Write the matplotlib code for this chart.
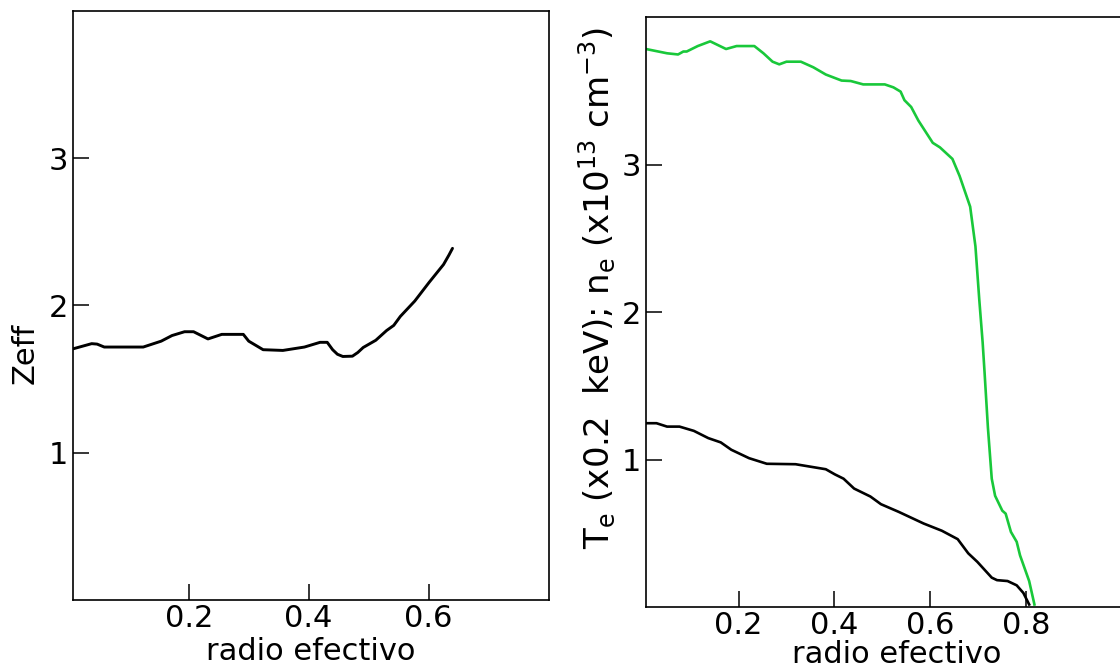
import numpy as np
import matplotlib
matplotlib.use('Agg')
import matplotlib.pyplot as plt

plt.rcParams['font.family'] = ['DejaVu Sans']
plt.rcParams['mathtext.default'] = 'regular'

# Zeff profile vs effective radius
r_zeff = [0.007, 0.038, 0.047, 0.059, 0.124, 0.154, 0.172, 0.193, 0.208, 0.232,
          0.255, 0.291, 0.300, 0.324, 0.357, 0.393, 0.419, 0.431, 0.440, 0.448,
          0.457, 0.473, 0.482, 0.491, 0.512, 0.530, 0.542, 0.553, 0.577, 0.601,
          0.625, 0.634, 0.640]
zeff = [1.705, 1.740, 1.737, 1.717, 1.717, 1.757, 1.795, 1.821, 1.821, 1.772,
        1.803, 1.803, 1.757, 1.699, 1.694, 1.717, 1.749, 1.749, 1.699, 1.668,
        1.653, 1.655, 1.680, 1.714, 1.763, 1.829, 1.864, 1.925, 2.029, 2.156,
        2.277, 2.341, 2.387]

# electron density (x1e13 cm^-3)
r_ne = [0.007, 0.051, 0.074, 0.085, 0.092, 0.115, 0.141, 0.174, 0.196, 0.233,
        0.252, 0.271, 0.285, 0.300, 0.330, 0.356, 0.382, 0.415, 0.434, 0.460,
        0.505, 0.523, 0.538, 0.546, 0.560, 0.575, 0.605, 0.620, 0.646, 0.661,
        0.683, 0.694, 0.702, 0.709, 0.713, 0.720, 0.728, 0.735, 0.750, 0.757,
        0.768, 0.780, 0.787, 0.806, 0.817]
ne = [3.783, 3.754, 3.746, 3.766, 3.766, 3.803, 3.835, 3.783, 3.803, 3.803,
      3.754, 3.697, 3.679, 3.697, 3.697, 3.659, 3.610, 3.569, 3.566, 3.543,
      3.543, 3.523, 3.494, 3.436, 3.390, 3.298, 3.147, 3.116, 3.038, 2.922,
      2.714, 2.445, 2.084, 1.795, 1.592, 1.217, 0.870, 0.754, 0.653, 0.633,
      0.509, 0.442, 0.350, 0.176, 0.017]

# electron temperature (x0.2 keV)
r_te = [0.007, 0.029, 0.051, 0.077, 0.107, 0.137, 0.163, 0.185, 0.222, 0.259,
        0.319, 0.382, 0.401, 0.419, 0.441, 0.475, 0.497, 0.534, 0.586, 0.624,
        0.657, 0.679, 0.698, 0.728, 0.739, 0.761, 0.780, 0.794, 0.806]
te = [1.246, 1.246, 1.223, 1.223, 1.194, 1.145, 1.116, 1.066, 1.009, 0.971,
      0.968, 0.934, 0.899, 0.870, 0.803, 0.749, 0.697, 0.645, 0.566, 0.517,
      0.460, 0.364, 0.306, 0.199, 0.182, 0.176, 0.147, 0.095, 0.017]

yticks = [1, 2, 3]
xticks_left = [0.2, 0.4, 0.6]
xticks_right = [0.2, 0.4, 0.6, 0.8]

W, H = 1120, 670
fig = plt.figure(figsize=(W / 100, H / 100), dpi=100)
ax1 = fig.add_axes([72.5 / W, 1 - 600 / H, 476.5 / W, 589.3 / H])
ax2 = fig.add_axes([645.7 / W, 1 - 607 / H, 476.5 / W, 590 / H])

ax1.plot(r_zeff, zeff, color='black', lw=2.1, solid_capstyle='round')
ax2.plot(r_ne, ne, color='#19c83a', lw=1.9)
ax2.plot(r_te, te, color='black', lw=1.9)

ax1.set_xlim(0.006, 0.801)
ax2.set_xlim(0.0065, 1.0)
for ax in (ax1, ax2):
    ax.set_ylim(0, 4)
    ax.set_yticks(yticks)
    ax.set_yticklabels([str(t) for t in yticks])
    ax.tick_params(direction='in', length=11.5, width=1.1, pad=3, labelsize=22)
    for sp in ax.spines.values():
        sp.set_linewidth(1.2)

ax1.set_xticks(xticks_left)
ax1.set_xticklabels([f'{t:.1f}' for t in xticks_left])
ax2.set_xticks(xticks_right)
ax2.set_xticklabels([f'{t:.1f}' for t in xticks_right])

ax1.set_xlabel('radio efectivo', fontsize=22)
ax1.xaxis.set_label_coords(0.5, -0.062)
ax1.set_ylabel('Zeff', fontsize=22)
ax1.yaxis.set_label_coords(-0.070, 0.419)

ax2.set_xlabel('radio efectivo', fontsize=22)
ax2.xaxis.set_label_coords(0.526, -0.056)
ax2.set_ylabel(r'T$_e$ (x0.2  keV); n$_e$ (x10$^{13}$ cm$^{-3}$)', fontsize=24.5)
ax2.yaxis.set_label_coords(-0.058, 0.54)

fig.savefig('out.png', dpi=100)
